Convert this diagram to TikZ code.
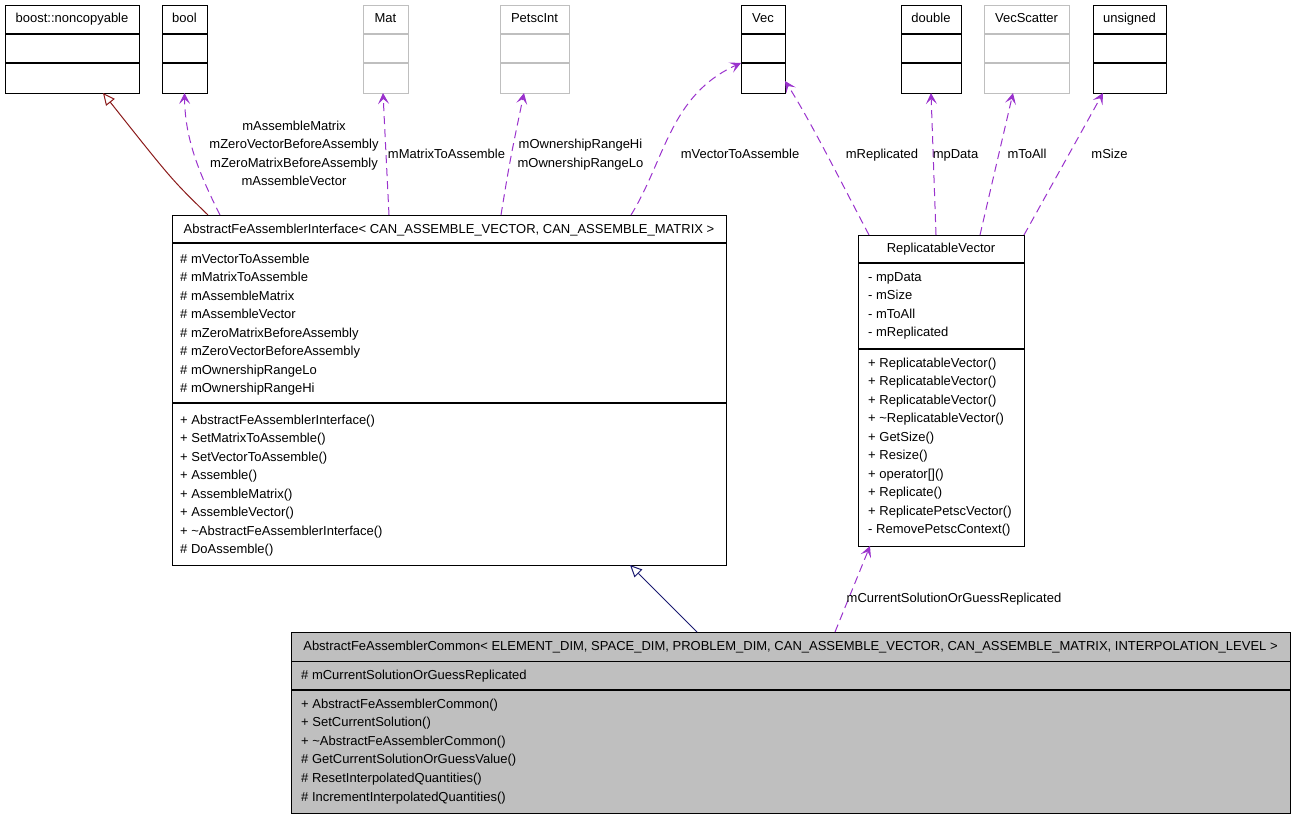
\documentclass[tikz,border=0pt]{standalone}
\usepackage{fontspec}
\setmainfont{Liberation Sans}
\usetikzlibrary{arrows.meta,calc}
\definecolor{purp}{HTML}{9A32CD}
\definecolor{inhred}{HTML}{8B1A1A}
\definecolor{inhblue}{HTML}{191970}
\definecolor{lgrey}{HTML}{BFBFBF}
\newcommand\dgfont{\fontsize{13}{15}\selectfont}
\begin{document}
\begin{tikzpicture}[x=1pt,y=-1pt,
  cls/.style={draw=black, line width=1pt, fill=white, inner sep=0pt, outer sep=0pt, anchor=north west},
  gcls/.style={cls, draw=lgrey},
  divline/.style={line width=1.2pt},
  txt/.style={inner sep=0pt, font=\dgfont, anchor=base},
  ltxt/.style={txt, anchor=base west},
  usage/.style={draw=purp, line width=1pt, dash pattern=on 8pt off 5pt,
    -{Stealth[length=11pt,width=11pt,inset=5pt]}},
  inh/.style={line width=1pt, -{Triangle[open, length=12pt, width=11pt, fill=white]}}
]
\useasboundingbox (0,0) rectangle (1296,819);

% ---------- top row classes ----------
\node[cls,  minimum width=134pt, minimum height=88pt] (noncop) at (5,5) {};
\node[cls,  minimum width=45pt,  minimum height=88pt] (bool) at (162,5) {};
\node[gcls, minimum width=45pt,  minimum height=88pt] (mat) at (363,5) {};
\node[gcls, minimum width=69pt,  minimum height=88pt] (petsc) at (500,5) {};
\node[cls,  minimum width=44pt,  minimum height=88pt] (vec) at (741,5) {};
\node[cls,  minimum width=60pt,  minimum height=88pt] (double) at (901,5) {};
\node[gcls, minimum width=85pt,  minimum height=88pt] (vecsc) at (984,5) {};
\node[cls,  minimum width=73pt,  minimum height=88pt] (unsigned) at (1093,5) {};

\foreach \n in {noncop,bool,vec,double,unsigned}{
  \draw[divline] ($(\n.north west)+(0,29)$) -- ($(\n.north east)+(0,29)$);
  \draw[divline] ($(\n.north west)+(0,58)$) -- ($(\n.north east)+(0,58)$);
}
\foreach \n in {mat,petsc,vecsc}{
  \draw[divline,lgrey] ($(\n.north west)+(0,29)$) -- ($(\n.north east)+(0,29)$);
  \draw[divline,lgrey] ($(\n.north west)+(0,58)$) -- ($(\n.north east)+(0,58)$);
}
\node[txt] (tnoncop) at ($(noncop.north)+(0,18)$) {boost::noncopyable};
\node[txt] (tbool) at ($(bool.north)+(0,18)$) {bool};
\node[txt] (tmat) at ($(mat.north)+(0,18)$) {Mat};
\node[txt] (tpetsc) at ($(petsc.north)+(0,18)$) {PetscInt};
\node[txt] (tvec) at ($(vec.north)+(0,18)$) {Vec};
\node[txt] (tdouble) at ($(double.north)+(0,18)$) {double};
\node[txt] (tvecsc) at ($(vecsc.north)+(0,18)$) {VecScatter};
\node[txt] (tunsigned) at ($(unsigned.north)+(0,18)$) {unsigned};

% ---------- AbstractFeAssemblerInterface ----------
\node[cls, minimum width=554pt, minimum height=350pt] (iface) at (172,215) {};
\draw[divline] ($(iface.north west)+(0,28)$) -- ($(iface.north east)+(0,28)$);
\draw[divline] ($(iface.north west)+(0,188)$) -- ($(iface.north east)+(0,188)$);
\node[txt] (tiface) at ($(iface.north)+(0,18)$) {AbstractFeAssemblerInterface< CAN\_ASSEMBLE\_VECTOR, CAN\_ASSEMBLE\_MATRIX >};
\foreach \t [count=\i from 0] in {\# mVectorToAssemble,\# mMatrixToAssemble,\# mAssembleMatrix,\# mAssembleVector,\# mZeroMatrixBeforeAssembly,\# mZeroVectorBeforeAssembly,\# mOwnershipRangeLo,\# mOwnershipRangeHi}
  \node[ltxt] (ia\i) at ($(iface.north west)+(8,{48+18.5*\i})$) {\t};
\foreach \t [count=\i from 0] in {+ AbstractFeAssemblerInterface(),+ SetMatrixToAssemble(),+ SetVectorToAssemble(),+ Assemble(),+ AssembleMatrix(),+ AssembleVector(),+ \textasciitilde AbstractFeAssemblerInterface(),\# DoAssemble()}
  \node[ltxt] (im\i) at ($(iface.north west)+(8,{209+18.5*\i})$) {\t};

% ---------- ReplicatableVector ----------
\node[cls, minimum width=166pt, minimum height=311pt] (rv) at (858,235) {};
\draw[divline] ($(rv.north west)+(0,28)$) -- ($(rv.north east)+(0,28)$);
\draw[divline] ($(rv.north west)+(0,114)$) -- ($(rv.north east)+(0,114)$);
\node[txt] (trv) at ($(rv.north)+(0,17)$) {ReplicatableVector};
\foreach \t [count=\i from 0] in {- mpData,- mSize,- mToAll,- mReplicated}
  \node[ltxt] (ra\i) at ($(rv.north west)+(10,{46+18.5*\i})$) {\t};
\foreach \t [count=\i from 0] in {+ ReplicatableVector(),+ ReplicatableVector(),+ ReplicatableVector(),+ \textasciitilde ReplicatableVector(),+ GetSize(),+ Resize(),+ operator[](),+ Replicate(),+ ReplicatePetscVector(),- RemovePetscContext()}
  \node[ltxt] (rm\i) at ($(rv.north west)+(10,{132+18.5*\i})$) {\t};

% ---------- AbstractFeAssemblerCommon ----------
\node[cls, fill=lgrey, minimum width=999pt, minimum height=181pt] (common) at (291,632) {};
\draw[divline] ($(common.north west)+(0,29.5)$) -- ($(common.north east)+(0,29.5)$);
\draw[divline] ($(common.north west)+(0,58)$) -- ($(common.north east)+(0,58)$);
\node[txt] (tcommon) at ($(common.north)+(0,18)$) {AbstractFeAssemblerCommon< ELEMENT\_DIM, SPACE\_DIM, PROBLEM\_DIM, CAN\_ASSEMBLE\_VECTOR, CAN\_ASSEMBLE\_MATRIX, INTERPOLATION\_LEVEL >};
\node[ltxt] (ca0) at ($(common.north west)+(10,47)$) {\# mCurrentSolutionOrGuessReplicated};
\foreach \t [count=\i from 0] in {+ AbstractFeAssemblerCommon(),+ SetCurrentSolution(),+ \textasciitilde AbstractFeAssemblerCommon(),\# GetCurrentSolutionOrGuessValue(),\# ResetInterpolatedQuantities(),\# IncrementInterpolatedQuantities()}
  \node[ltxt] (cm\i) at ($(common.north west)+(10,{76+18.6*\i})$) {\t};

% ---------- connectors ----------
\draw[inh, draw=inhred] ($(iface.north west)+(36,0)$) .. controls (172,180) .. ($(noncop.south west)+(98,0)$);
\draw[usage] ($(iface.north west)+(48,0)$) .. controls (200,175) and (185,140) .. (bool.south);
\draw[usage] ($(iface.north west)+(217,0)$) -- ($(mat.south)+(-2.5,0)$);
\draw[usage] ($(iface.north west)+(329,0)$) .. controls (510,160) .. ($(petsc.south west)+(24,0)$);
\draw[usage] ($(iface.north west)+(459,0)$) .. controls (665,160) and (670,95) .. ($(vec.north west)+(0,58)$);
\draw[usage] ($(rv.north west)+(11,0)$) .. controls (840,180) and (810,120) .. ($(vec.south east)+(0,-12)$);
\draw[usage] ($(rv.north west)+(78,0)$) -- (double.south);
\draw[usage] ($(rv.north west)+(122,0)$) -- ($(vecsc.south west)+(29,0)$);
\draw[usage] (rv.north east) -- ($(unsigned.south west)+(10,0)$);
\draw[inh, draw=inhblue] ($(common.north west)+(406,0)$) -- ($(iface.south west)+(458,0)$);
\draw[usage] ($(common.north west)+(544,0)$) -- ($(rv.south west)+(12,0)$);

% ---------- connector labels ----------
\node[txt] (lb1) at (294,130) {mAssembleMatrix};
\node[txt] (lb2) at (294,148.5) {mZeroVectorBeforeAssembly};
\node[txt] (lb3) at (294,167) {mZeroMatrixBeforeAssembly};
\node[txt] (lb4) at (294,185.5) {mAssembleVector};
\node[txt] (lmat) at (446.5,158) {mMatrixToAssemble};
\node[txt] (lhi) at (580.5,148.5) {mOwnershipRangeHi};
\node[txt] (llo) at (580.5,167) {mOwnershipRangeLo};
\node[txt] (lvec) at (740,158) {mVectorToAssemble};
\node[txt] (lrep) at (882,158) {mReplicated};
\node[txt] (lpd) at (955.5,158) {mpData};
\node[txt] (lta) at (1027,158) {mToAll};
\node[txt] (lsz) at (1109.5,158) {mSize};
\node[txt] (lcur) at (954,602) {mCurrentSolutionOrGuessReplicated};
\end{tikzpicture}
\end{document}
